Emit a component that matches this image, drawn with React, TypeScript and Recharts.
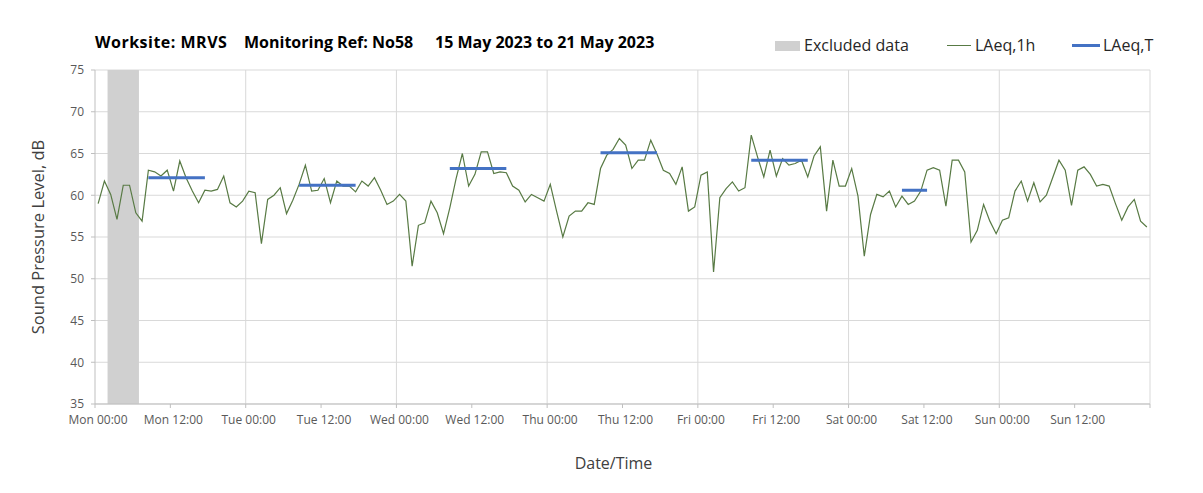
import React from 'react';
import {
  ComposedChart,
  Line,
  XAxis,
  YAxis,
  CartesianGrid,
  ReferenceArea,
  ReferenceLine,
  Legend,
} from 'recharts';

// Hourly LAeq,1h values (dB), one array per day, hour 00 .. 23
const mon = [59.0, 61.7, 60.1, 57.1, 61.2, 61.2, 57.9, 56.9, 63.0, 62.8, 62.3, 63.0, 60.5, 64.1, 62.1, 60.5, 59.1, 60.6, 60.5, 60.7, 62.3, 59.1, 58.6, 59.3];
const tue = [60.5, 60.3, 54.2, 59.5, 60.0, 60.9, 57.8, 59.4, 61.3, 63.6, 60.5, 60.6, 62.0, 59.1, 61.7, 61.1, 61.1, 60.4, 61.7, 61.1, 62.1, 60.6, 58.9, 59.3];
const wed = [60.1, 59.3, 51.5, 56.4, 56.7, 59.3, 57.9, 55.4, 58.5, 62.0, 65.0, 61.1, 62.5, 65.2, 65.2, 62.6, 62.8, 62.7, 61.1, 60.6, 59.2, 60.1, 59.7, 59.3];
const thu = [61.3, 58.1, 55.0, 57.5, 58.1, 58.1, 59.1, 58.9, 63.2, 64.8, 65.5, 66.8, 66.0, 63.2, 64.2, 64.2, 66.6, 64.9, 63.0, 62.6, 61.3, 63.4, 58.1, 58.6];
const fri = [62.4, 62.8, 50.8, 59.7, 60.8, 61.6, 60.5, 60.9, 67.2, 64.6, 62.2, 65.4, 62.3, 64.4, 63.6, 63.8, 64.2, 62.2, 64.7, 65.8, 58.1, 64.2, 61.1, 61.1];
const sat = [63.2, 59.9, 52.7, 57.7, 60.1, 59.8, 60.5, 58.6, 59.9, 58.9, 59.3, 60.5, 63.0, 63.3, 63.0, 58.7, 64.2, 64.2, 62.8, 54.4, 55.8, 58.9, 56.9, 55.4];
const sun = [57.0, 57.3, 60.5, 61.7, 59.3, 61.5, 59.2, 60.0, 62.1, 64.2, 63.0, 58.8, 63.0, 63.4, 62.5, 61.1, 61.3, 61.1, 59.0, 57.0, 58.6, 59.5, 56.9, 56.2];

// LAeq,T periods (hour index from Mon 00:00, inclusive) and levels (dB)
const periodStart = [8, 32, 56, 80, 104, 128];
const periodEnd = [17, 41, 65, 89, 113, 132];
const periodLevel = [62.1, 61.2, 63.2, 65.1, 64.2, 60.6];

// Excluded data window (hours from Mon 00:00)
const excludedFrom = 2;
const excludedTo = 7;

const dayNames = ['Mon', 'Tue', 'Wed', 'Thu', 'Fri', 'Sat', 'Sun'];
const xTicks = [0, 12, 24, 36, 48, 60, 72, 84, 96, 108, 120, 132, 144, 156, 168];
const dayLines = [24, 48, 72, 96, 120, 144, 168];
const yTicks = [35, 40, 45, 50, 55, 60, 65, 70, 75];

const hourly = [...mon, ...tue, ...wed, ...thu, ...fri, ...sat, ...sun];

const data = hourly.map((v, i) => {
  const k = periodStart.findIndex((s, j) => i >= s && i <= periodEnd[j]);
  return { t: i + 0.5, laeq1h: v, laeqT: k >= 0 ? periodLevel[k] : null };
});

const fmtX = (v: number) => {
  if (v >= 168) return '';
  const d = dayNames[Math.floor(v / 24)];
  const h = v % 24 === 0 ? '00' : '12';
  return `${d} ${h}:00`;
};

const FONT = "'Open Sans', 'Noto Sans', sans-serif";
const GRID = '#d9d9d9';
const AXIS = '#bfbfbf';
const GREEN = '#587A44';
const BLUE = '#4472C4';

const LegendBox = () => (
  <div style={{ position: 'relative', width: 1203, height: 0, fontFamily: FONT }}>
    <div style={{ position: 'absolute', left: 775, top: 41, width: 25, height: 10, background: '#d0d0d0' }} />
    <span style={{ position: 'absolute', left: 804, top: 34, fontSize: 16, color: '#262626', whiteSpace: 'nowrap', lineHeight: '22px' }}>Excluded data</span>
    <div style={{ position: 'absolute', left: 947, top: 45, width: 24, height: 1, background: GREEN }} />
    <span style={{ position: 'absolute', left: 975, top: 34, fontSize: 16, color: '#262626', whiteSpace: 'nowrap', lineHeight: '22px' }}>LAeq,1h</span>
    <div style={{ position: 'absolute', left: 1072, top: 44, width: 28, height: 3, background: BLUE }} />
    <span style={{ position: 'absolute', left: 1103, top: 34, fontSize: 16, color: '#262626', whiteSpace: 'nowrap', lineHeight: '22px' }}>LAeq,T</span>
  </div>
);

const titleStyle: React.CSSProperties = {
  position: 'absolute',
  top: 30,
  fontSize: 16,
  fontWeight: 700,
  color: '#000',
  whiteSpace: 'nowrap',
  lineHeight: '24px',
};

export default function App() {
  return (
    <div style={{ position: 'relative', width: 1203, height: 493, margin: -8, background: '#fff', fontFamily: FONT }}>
      <div style={{ ...titleStyle, left: 95, letterSpacing: 0.5 }}>Worksite: MRVS</div>
      <div style={{ ...titleStyle, left: 244 }}>Monitoring Ref: No58</div>
      <div style={{ ...titleStyle, left: 435 }}>15 May 2023 to 21 May 2023</div>
      <ComposedChart
        width={1203}
        height={493}
        data={data}
        margin={{ top: 70, right: 53, left: 0, bottom: 0 }}
        style={{ position: 'absolute', left: 0, top: 0 }}
      >
        <CartesianGrid vertical={false} stroke={GRID} />
        <ReferenceArea
          x1={excludedFrom}
          x2={excludedTo}
          y1={35}
          y2={75}
          fill="#d0d0d0"
          fillOpacity={1}
          stroke="none"
          ifOverflow="extendDomain"
        />
        {dayLines.map((d) => (
          <ReferenceLine key={d} x={d} stroke={GRID} strokeWidth={1} />
        ))}
        <XAxis
          dataKey="t"
          type="number"
          domain={[0, 168]}
          ticks={xTicks}
          interval={0}
          tickFormatter={fmtX}
          stroke={AXIS}
          tickSize={4}
          tickMargin={7}
          height={89}
          tick={{ fontSize: 12, fill: '#595959', dx: 3 }}
          label={{ value: 'Date/Time', position: 'insideBottom', offset: 24, dx: -9, style: { fontSize: 16, fill: '#404040' } }}
        />
        <YAxis
          type="number"
          domain={[35, 75]}
          ticks={yTicks}
          interval={0}
          width={95}
          stroke={AXIS}
          tickSize={4}
          tickMargin={7}
          tick={{ fontSize: 12, fill: '#595959' }}
          label={{
            value: 'Sound Pressure Level, dB',
            angle: -90,
            position: 'insideLeft',
            offset: 38,
            style: { fontSize: 16.5, fill: '#404040', textAnchor: 'middle' },
          }}
        />
        <Legend verticalAlign="top" wrapperStyle={{ position: 'absolute', top: 0, left: 0, width: 1203, height: 0 }} content={() => <LegendBox />} />
        <Line
          type="linear"
          dataKey="laeq1h"
          name="LAeq,1h"
          stroke={GREEN}
          strokeWidth={1.2}
          dot={false}
          activeDot={false}
          isAnimationActive={false}
        />
        <Line
          type="linear"
          dataKey="laeqT"
          name="LAeq,T"
          stroke={BLUE}
          strokeWidth={3}
          dot={false}
          activeDot={false}
          connectNulls={false}
          isAnimationActive={false}
        />
      </ComposedChart>
    </div>
  );
}
